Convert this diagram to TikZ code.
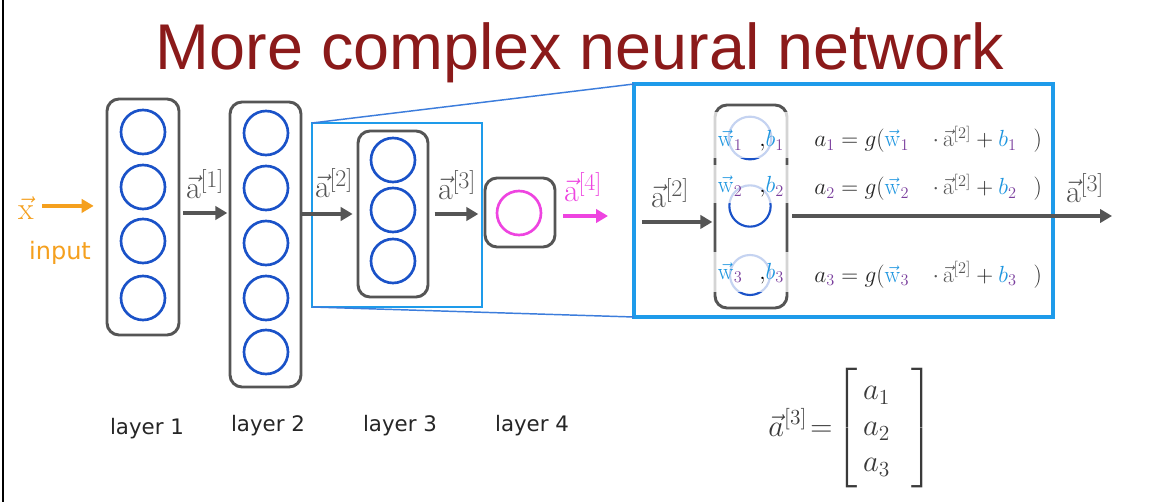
\RequirePackage{fix-cm}
\documentclass[tikz,border=0pt]{standalone}
\usepackage{amsmath}
\usepackage[no-math]{fontspec}
\setmainfont{DejaVu Sans}
\newfontfamily\titlefont{Liberation Sans}
\usetikzlibrary{arrows.meta, positioning}

\definecolor{boxgray}{HTML}{555555}
\definecolor{neuronblue}{HTML}{1A52C8}
\definecolor{zoomblue}{HTML}{1E9BEA}
\definecolor{zoomline}{HTML}{3C7DDC}
\definecolor{inputorange}{HTML}{F5A01E}
\definecolor{outmagenta}{HTML}{EE44E0}
\definecolor{titlered}{HTML}{8B1A1A}
\definecolor{wblue}{HTML}{1E96E0}
\definecolor{subpurple}{HTML}{7A3E9D}
\definecolor{inkgray}{HTML}{3A3A3A}

% big-superscript activation for arrow labels
\newcommand{\actv}[1]{\vec{\mathrm{a}}^{\hbox{\fontsize{18}{18}\selectfont$[#1]$}}}
% plain activation inside the equations
\newcommand{\actvs}[1]{\vec{\mathrm{a}}^{[#1]}}
\newcommand{\wvec}[1]{{\color{wblue}\vec{\mathrm{w}}}_{\color{subpurple}#1}}
\newcommand{\bsub}[1]{{\color{wblue}b}_{\color{subpurple}#1}}
\newcommand{\asub}[1]{a_{\color{subpurple}#1}}

\begin{document}
\begin{tikzpicture}[
      x=0.75pt, y=-0.75pt,
      layerbox/.style={draw=boxgray, line width=2.2pt, rounded corners=9pt, inner sep=0pt, outer sep=0pt},
      neuron/.style={circle, draw=neuronblue, line width=2pt, minimum size=33pt, inner sep=0pt},
      flow/.style={draw=boxgray, line width=3pt, -{Triangle[length=9pt, width=10pt]}},
      zoombox/.style={draw=zoomblue, inner sep=0pt, outer sep=0pt},
      veil/.style={fill=white, fill opacity=0.75, minimum width=58pt, inner sep=0pt},
      vlabel/.style={anchor=base, text=boxgray, font=\fontsize{24}{27}\selectfont},
      laylabel/.style={anchor=base, text=black!85, font=\fontsize{16}{19}\selectfont},
      eq/.style={anchor=base west, inner sep=0pt, text=black!85, font=\fontsize{17.5}{20}\selectfont}
      ]

      % Page
      \fill[white] (0,0) rectangle (1152,502);
      \useasboundingbox (0,0) rectangle (1152,502);
      \draw[black, line width=2.2pt] (3,0) -- (3,502);

      % Title
      \node[anchor=base, text=titlered, font=\titlefont\fontsize{48.5}{52}\selectfont] (title) at (580,70) {More complex neural network};

      % Layers
      \node[layerbox, minimum width=54pt, minimum height=177pt] (l1) at (143,217) {};
      \node[layerbox, minimum width=53.25pt, minimum height=213.75pt] (l2) at (265.5,244.5) {};
      \node[zoombox, line width=1.5pt, minimum width=127.5pt, minimum height=138pt] (z3) at (397,215) {};
      \node[layerbox, minimum width=52.5pt, minimum height=124.5pt] (l3) at (393,214) {};
      \node[layerbox, minimum width=52.5pt, minimum height=51.75pt] (l4) at (520,212.5) {};

      \foreach \ny [count=\i] in {132,187,241,298}
        \node[neuron] (n1\i) at (143,\ny) {};
      \foreach \ny [count=\i] in {133,188,243,298,352}
        \node[neuron] (n2\i) at (266,\ny) {};
      \foreach \ny [count=\i] in {160,210,261}
        \node[neuron] (n3\i) at (393,\ny) {};
      \node[neuron, draw=outmagenta] (n41) at (519,213) {};

      % Input
      \node[anchor=base, text=inputorange, font=\fontsize{24}{26}\selectfont] (xin) at (26,220) {$\vec{\mathrm{x}}$};
      \node[anchor=base, text=inputorange, font=\fontsize{18}{22}\selectfont] (input) at (60,260) {input};
      \draw[flow, draw=inputorange, shorten <=3pt, shorten >=10pt] ([yshift=2pt]xin.east) -- ([yshift=2pt]xin.east -| l1.west);

      % Arrows between layers
      \draw[flow, shorten <=3pt, shorten >=2pt] ([yshift=3pt]l1.east) -- ([yshift=3pt]l1.east -| l2.west);
      \draw[flow, shorten >=4pt] (l2.east |- l3.west) -- (l3.west);
      \draw[flow, shorten <=5pt, shorten >=5pt] (l3.east) -- (l3.east -| l4.west);
      \coordinate (out4) at (608,216);
      \draw[flow, draw=outmagenta, shorten <=6pt] (l4.east |- out4) -- (out4);

      \node[vlabel] (a1) at (205,199) {$\actv{1}$};
      \node[vlabel] (a2) at (334,198) {$\actv{2}$};
      \node[vlabel] (a3) at (457,200) {$\actv{3}$};
      \node[vlabel, text=outmagenta] (a4) at (583,202) {$\actv{4}$};

      % Zoomed view of layer 3
      \node[zoombox, line width=3pt, minimum width=314.25pt, minimum height=174.75pt] (big) at (843.5,200.5) {};
      \draw[zoomline, line width=1.1pt] (z3.north west) -- (big.north west);
      \draw[zoomline, line width=1.1pt] (z3.south west) -- (big.south west);

      \node[layerbox, minimum width=54pt, minimum height=152.25pt] (unit) at (751,206.5) {};
      \node[neuron, minimum size=32pt, line width=1.6pt] (u1) at (750,138) {};
      \node[neuron, minimum size=31pt, line width=1.6pt] (u2) at (750,206) {};
      \node[neuron, minimum size=30pt, line width=1.6pt] (u3) at (750,275) {};

      \foreach \i/\vy/\vh/\ty in {1/135/34.5pt/147, 2/184/28.5pt/193, 3/272/30pt/279} {
        \node[veil, minimum height=\vh] (veil\i) at (751,\vy) {};
        \node[anchor=base, font=\fontsize{17.5}{20}\selectfont] (wb\i) at (751,\ty) {$\wvec{\i}\;\;\,{,}\bsub{\i}$};
      }

      \draw[flow, shorten <=6pt, shorten >=2pt] ([yshift=-11.6pt]unit.west -| big.west) -- ([yshift=-11.6pt]unit.west);
      \coordinate (out3) at (1112,216);
      \draw[flow, shorten <=4pt] (unit.east |- out3) -- (out3);

      \node[vlabel] (a2in) at (670,208) {$\actv{2}$};
      \node[vlabel] (a3out) at (1085,203) {$\actv{3}$};

      % Equations
      \foreach \i/\by in {1/147, 2/195, 3/282}
        \node[eq] (eq\i) at (814,\by) {$\asub{\i} = g(\wvec{\i}\quad{\color{boxgray}\cdot\,\actvs{2}} + \bsub{\i}\;\;\,)$};

      % Layer names
      \node[laylabel] (lay1) at (147,434) {layer 1};
      \node[laylabel] (lay2) at (268,431) {layer 2};
      \node[laylabel] (lay3) at (400,431) {layer 3};
      \node[laylabel] (lay4) at (532,431) {layer 4};

      % Output vector
      \node[anchor=base, text=inkgray, font=\fontsize{23}{27}\selectfont] (avec) at (851,436)
        {$\vec{a}^{[3]}\!=\!\begin{bmatrix} \,a_1\hspace{16pt}\\ \,a_2\hspace{16pt}\\ \,a_3\hspace{16pt} \end{bmatrix}$};
    \end{tikzpicture}
\end{document}
